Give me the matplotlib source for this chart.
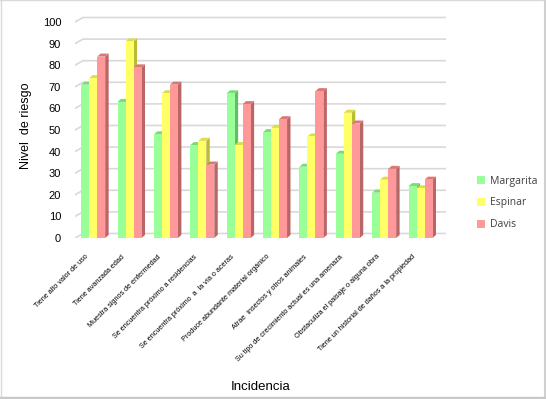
import numpy as np
import matplotlib
matplotlib.use("Agg")
import matplotlib.pyplot as plt
import matplotlib.transforms as mtransforms
from matplotlib.patches import Polygon, Patch, Rectangle
from matplotlib.lines import Line2D

categorias = [
    "Tiene alto valor de uso",
    "Tiene avanzada edad",
    "Muestra signos de enfermedad",
    "Se encuentra próximo a residencias",
    "Se encuentra próximo  a  la vía o aceras",
    "Produce abundante material orgánico",
    "Atrae  insectos y otros animales",
    "Su tipo de crecimiento actual es una amenaza",
    "Obstaculiza el paisaje o alguna obra",
    "Tiene un historial de daños a la propiedad",
]
series = ["Margarita", "Espinar", "Davis"]
margarita = [71, 63, 48, 43, 67, 49, 33, 39, 21, 24]
espinar = [74, 91, 67, 45, 43, 51, 47, 58, 27, 23]
davis = [84, 79, 71, 34, 62, 55, 68, 53, 32, 27]
valores = [margarita, espinar, davis]
yticks = list(range(0, 101, 10))

frente = ["#99ff99", "#ffff66", "#ff9999"]
lado = ["#66bb66", "#bbbb33", "#bb6666"]
arriba = ["#77dd77", "#dddd44", "#dd7777"]

plt.rcParams["font.family"] = ["Liberation Sans", "DejaVu Sans"]

fig = plt.figure(figsize=(5.46, 3.99), dpi=100)
ax = fig.add_axes([75 / 546, 161 / 399, 371 / 546, 224.6 / 399])
ax.set_xlim(-0.5, 9.7)
ax.set_ylim(0, 104)

# back wall gridlines (offset for depth)
gx, gy = 0.22, 2.1
for v in yticks:
    ax.add_line(Line2D([-0.5, -0.5 + gx, 9.7], [v, v + gy, v + gy],
                       color="#d9d9d9", lw=1.2, zorder=1))

w = 0.22
dx, dy = 0.095, 1.4
x = np.arange(len(categorias))
for j, vals in enumerate(valores):
    xs = x + (j - 1) * w
    for xi, h in zip(xs, vals):
        x0, x1 = xi - w / 2, xi + w / 2
        ax.add_patch(Polygon([(x1, 0), (x1 + dx, dy), (x1 + dx, h + dy), (x1, h)],
                             closed=True, fc=lado[j], ec="none", zorder=3 + j))
        ax.add_patch(Polygon([(x0, h), (x0 + dx, h + dy), (x1 + dx, h + dy), (x1, h)],
                             closed=True, fc=arriba[j], ec="none", zorder=3 + j))
        ax.add_patch(Rectangle((x0, 0), w, h, fc=frente[j], ec="none", zorder=3 + j))

for s in ax.spines.values():
    s.set_visible(False)
ax.set_yticks(yticks)
ax.tick_params(axis="y", length=0, pad=10, labelsize=8)
ax.set_xticks(x)
ax.set_xticklabels(categorias, fontsize=5.2, rotation=45, ha="right",
                   rotation_mode="anchor")
ax.tick_params(axis="x", length=0, pad=11)
shift = mtransforms.ScaledTranslation(-6 / 72, 0, fig.dpi_scale_trans)
for lab in ax.get_xticklabels():
    lab.set_transform(lab.get_transform() + shift)
ax.set_ylabel("Nivel  de riesgo", fontsize=9, labelpad=8)
ax.set_xlabel("Incidencia", fontsize=9.5, labelpad=13)

handles = [Patch(fc=c, ec="none") for c in frente]
leg = fig.legend(handles, series, loc="center left", bbox_to_anchor=(468 / 546, 1 - 203 / 399),
                 frameon=False, handlelength=0.75, handleheight=0.75, handletextpad=0.5,
                 labelspacing=1.05, prop={"family": "Open Sans", "size": 7.5})
for t in leg.get_texts():
    t.set_color("#404040")

# chart border
fig.add_artist(Line2D([0.001, 0.001], [0, 1], transform=fig.transFigure, color="#d9d9d9", lw=1))
fig.add_artist(Line2D([0, 1], [0.999, 0.999], transform=fig.transFigure, color="#d9d9d9", lw=1))
fig.add_artist(Line2D([544.5 / 546, 544.5 / 546], [0, 1], transform=fig.transFigure, color="#d0d0d0", lw=1.5))
fig.add_artist(Line2D([0, 1], [1.5 / 399, 1.5 / 399], transform=fig.transFigure, color="#c8c8c8", lw=2.5))

fig.savefig("out.png", dpi=100)
